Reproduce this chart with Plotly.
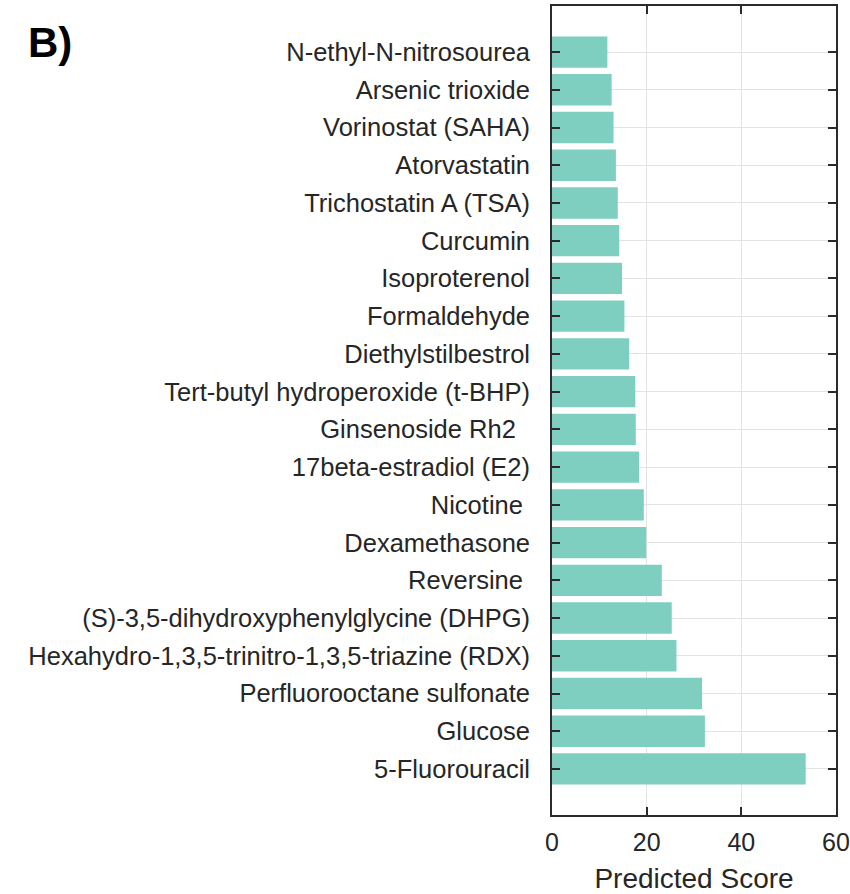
import plotly.graph_objects as go

compounds = [
    "N-ethyl-N-nitrosourea",
    "Arsenic trioxide",
    "Vorinostat (SAHA)",
    "Atorvastatin",
    "Trichostatin A (TSA)",
    "Curcumin",
    "Isoproterenol",
    "Formaldehyde",
    "Diethylstilbestrol",
    "Tert-butyl hydroperoxide (t-BHP)",
    "Ginsenoside Rh2\u00a0\u00a0",
    "17beta-estradiol (E2)",
    "Nicotine\u00a0",
    "Dexamethasone",
    "Reversine\u00a0",
    "(S)-3,5-dihydroxyphenylglycine (DHPG)",
    "Hexahydro-1,3,5-trinitro-1,3,5-triazine (RDX)",
    "Perfluorooctane sulfonate",
    "Glucose",
    "5-Fluorouracil",
]
scores = [11.7, 12.6, 13.0, 13.5, 13.9, 14.2, 14.8, 15.3, 16.3, 17.6,
          17.7, 18.4, 19.4, 19.9, 23.2, 25.3, 26.3, 31.7, 32.3, 53.6]
x_ticks = [0, 20, 40, 60]

font_family = "Liberation Sans, Arial, sans-serif"
axis_col = "#2b2b2b"
text_col = "#262626"

fig = go.Figure(go.Bar(
    x=scores, y=compounds, orientation="h",
    marker=dict(color="#7fcfc0", line=dict(width=0)),
    width=0.83,
))

fig.update_layout(
    width=850, height=894,
    margin=dict(l=552, r=14, t=6, b=79),
    paper_bgcolor="white", plot_bgcolor="white",
    showlegend=False,
    font=dict(family=font_family, color=text_col),
    annotations=[dict(
        text="<b>B)</b>", xref="paper", yref="paper",
        x=(26 - 552) / 284, y=1.0, xanchor="left", yanchor="top",
        yshift=-11, showarrow=False,
        font=dict(size=42, color="black", family=font_family),
    )],
)

fig.update_xaxes(
    range=[0, 60], tickvals=x_ticks, ticktext=[str(v) for v in x_ticks],
    ticks="inside", ticklen=8, tickwidth=1.5, tickcolor=axis_col,
    showline=True, linecolor=axis_col, linewidth=1.8, mirror="ticks",
    showgrid=True, gridcolor="#e3e3e3", gridwidth=1,
    zeroline=False, automargin=False,
    tickfont=dict(size=25, color=text_col),
    title=dict(text="Predicted Score", font=dict(size=28, color=text_col), standoff=18),
    ticklabelstandoff=4,
)
fig.update_yaxes(
    categoryorder="array", categoryarray=compounds,
    range=[len(compounds) - 1 + 1.22, -1.22],
    ticks="inside", ticklen=8, tickwidth=1.5, tickcolor=axis_col,
    showline=True, linecolor=axis_col, linewidth=1.8, mirror="ticks",
    showgrid=True, gridcolor="#e3e3e3", gridwidth=1,
    zeroline=False, automargin=False,
    tickfont=dict(size=25.5, color=text_col),
    ticklabelstandoff=15,
)

fig.write_html("out.html")
